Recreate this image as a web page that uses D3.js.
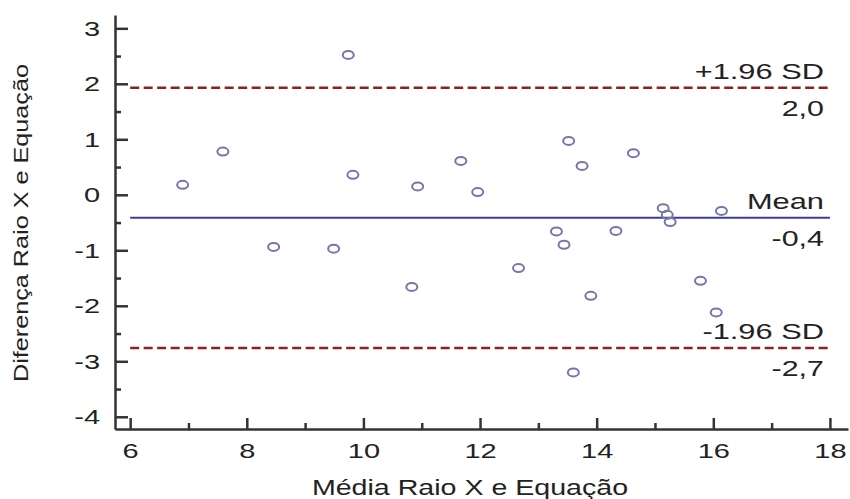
<!DOCTYPE html>
<html>
<head>
<meta charset="utf-8">
<script src="https://cdn.jsdelivr.net/npm/d3@7"></script>
<style>
  body { margin: 0; background: #fff; }
  svg text { font-family: "Liberation Sans", Arial, sans-serif; fill: #222; }
</style>
</head>
<body>
<div id="chart"></div>
<script>
// mean of the two methods (x) and their difference (y)
var meanValues = [6.90, 7.59, 8.46, 9.49, 9.74, 9.82, 10.83, 10.93, 11.67, 11.96,
                  12.66, 13.31, 13.44, 13.52, 13.60, 13.75, 13.90, 14.33, 14.63,
                  15.14, 15.21, 15.26, 15.78, 16.05, 16.14];
var diffValues = [0.18, 0.78, -0.94, -0.97, 2.52, 0.36, -1.66, 0.15, 0.61, 0.05,
                  -1.32, -0.66, -0.90, 0.97, -3.20, 0.52, -1.82, -0.65, 0.75,
                  -0.24, -0.36, -0.49, -1.55, -2.12, -0.29];

// reference lines: +1.96 SD, mean, -1.96 SD
var limitValues = [1.93, -0.415, -2.76];
var limitNames = ['+1.96 SD', 'Mean', '-1.96 SD'];
var limitLabels = ['2,0', '-0,4', '-2,7'];

var xTicks = [6, 8, 10, 12, 14, 16, 18];
var xMinorTicks = [7, 9, 11, 13, 15, 17];
var yTicks = [-4, -3, -2, -1, 0, 1, 2, 3];
var yMinorTicks = [-3.5, -2.5, -1.5, -0.5, 0.5, 1.5, 2.5];

var width = 850,
    height = 499,
    plotLeft = 115,
    plotRight = 848,
    plotTop = 15,
    plotBottom = 429;

var svg = d3.select('#chart').append('svg')
    .attr('width', width)
    .attr('height', height);

var x = d3.scaleLinear().domain([5.74, 18.31]).range([plotLeft, plotRight]);
var y = d3.scaleLinear().domain([-4.22, 3.24]).range([plotBottom, plotTop]);

//  the source picture is stretched sideways, so text gets a horizontal scale
function stretch(sel, sx) {
    sel.each(function() {
        var t = d3.select(this),
            tx = +t.attr('x') || 0,
            ty = +t.attr('y') || 0;
        t.attr('x', 0).attr('y', 0)
         .attr('transform', 'translate(' + tx + ',' + ty + ') scale(' + sx + ',1)');
    });
}

//  Axes (ticks point inward)
svg.append('g')
    .attr('class', 'x-axis')
    .attr('transform', 'translate(0,' + plotBottom + ')')
    .call(d3.axisBottom(x).tickValues(xTicks).tickSizeInner(-11).tickSizeOuter(0)
        .tickPadding(14).tickFormat(function(d) { return String(d); }));

svg.append('g')
    .attr('transform', 'translate(0,' + plotBottom + ')')
    .call(d3.axisBottom(x).tickValues(xMinorTicks).tickSizeInner(-6).tickSizeOuter(0)
        .tickFormat(''))
    .call(function(g) { g.select('.domain').remove(); });

svg.append('g')
    .attr('class', 'y-axis')
    .attr('transform', 'translate(' + plotLeft + ',0)')
    .call(d3.axisLeft(y).tickValues(yTicks).tickSizeInner(-13).tickSizeOuter(0)
        .tickPadding(15).tickFormat(function(d) { return String(d); }));

svg.append('g')
    .attr('transform', 'translate(' + plotLeft + ',0)')
    .call(d3.axisLeft(y).tickValues(yMinorTicks).tickSizeInner(-6).tickSizeOuter(0)
        .tickFormat(''))
    .call(function(g) { g.select('.domain').remove(); });

svg.selectAll('.domain, .tick line')
    .attr('stroke', '#333')
    .attr('stroke-width', 2.5);

svg.selectAll('.tick text')
    .attr('font-size', 21)
    .attr('fill', '#222')
    .attr('font-family', '"Liberation Sans", Arial, sans-serif')
    .call(stretch, 1.38);

//  Limit lines
var limits = svg.selectAll('g.limit')
    .data(limitValues)
    .enter().append('g')
    .attr('class', 'limit');

limits.append('line')
    .attr('x1', x(6))
    .attr('x2', x(18))
    .attr('y1', function(d) { return y(d); })
    .attr('y2', function(d) { return y(d); })
    .attr('stroke', function(d, i) { return i === 1 ? '#3c3ca0' : '#8e1f25'; })
    .attr('stroke-width', function(d, i) { return i === 1 ? 2 : 2.5; })
    .attr('stroke-dasharray', function(d, i) { return i === 1 ? null : '9,4.5'; });

limits.append('text')
    .attr('x', x(18) - 6)
    .attr('y', function(d) { return y(d) - 9; })
    .attr('text-anchor', 'end')
    .attr('font-size', 22)
    .text(function(d, i) { return limitNames[i]; })
    .call(stretch, 1.4);

limits.append('text')
    .attr('x', x(18) - 6)
    .attr('y', function(d) { return y(d) + 28; })
    .attr('text-anchor', 'end')
    .attr('font-size', 22)
    .text(function(d, i) { return limitLabels[i]; })
    .call(stretch, 1.38);

//  Points
svg.selectAll('ellipse.pt')
    .data(meanValues)
    .enter().append('ellipse')
    .attr('class', 'pt')
    .attr('cx', function(d) { return x(d); })
    .attr('cy', function(d, i) { return y(diffValues[i]); })
    .attr('rx', 5.5)
    .attr('ry', 4)
    .attr('fill', 'none')
    .attr('stroke', '#7676aa')
    .attr('stroke-width', 2);

//  Axis titles
svg.append('text')
    .attr('x', 470)
    .attr('y', 495)
    .attr('text-anchor', 'middle')
    .attr('font-size', 22)
    .text('Média Raio X e Equação')
    .call(stretch, 1.3);

svg.append('text')
    .attr('transform', 'translate(28,223) rotate(-90) scale(1.2,1)')
    .attr('text-anchor', 'middle')
    .attr('font-size', 21)
    .text('Diferença Raio X e Equação');
</script>
</body>
</html>
